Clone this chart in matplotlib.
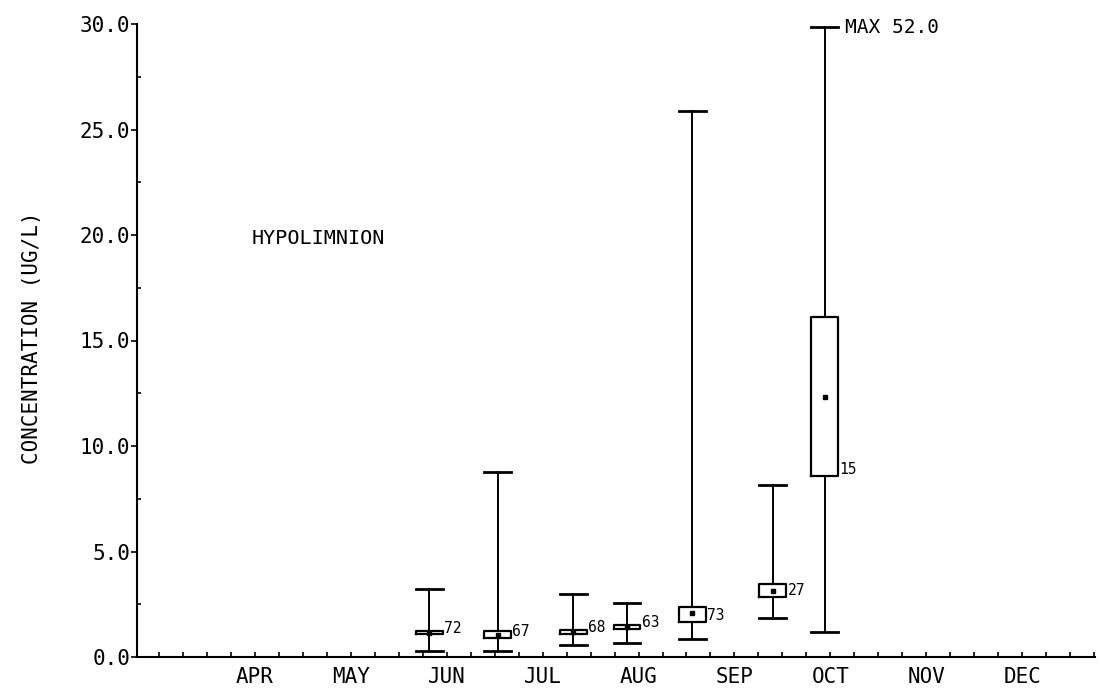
import matplotlib
matplotlib.use("Agg")
import matplotlib.pyplot as plt
from matplotlib.ticker import FixedLocator, MultipleLocator, FormatStrFormatter

# ---- data ----
months = ["APR", "MAY", "JUN", "JUL", "AUG", "SEP", "OCT", "NOV", "DEC"]
month_pos = [4, 5, 6, 7, 8, 9, 10, 11, 12]
x_pos = [5.82, 6.53, 7.32, 7.88, 8.56, 9.40, 9.94]
counts = [72, 67, 68, 63, 73, 27, 15]
mins = [0.28, 0.30, 0.57, 0.66, 0.85, 1.85, 1.18]
q1s = [1.08, 0.90, 1.09, 1.33, 1.66, 2.84, 8.60]
centers = [1.16, 1.05, 1.18, 1.42, 2.08, 3.13, 12.3]
q3s = [1.24, 1.23, 1.28, 1.52, 2.37, 3.46, 16.1]
maxs = [3.20, 8.77, 3.00, 2.55, 25.9, 8.15, 52.0]
ymax = 30.0

FONT = "DejaVu Sans Mono"
plt.rcParams["font.family"] = [FONT, "DejaVu Sans"]

fig = plt.figure(figsize=(11.04, 6.96), dpi=100)
ax = fig.add_axes([137/1104, 39/696, (1095-137)/1104, (657-24)/696])

stats = []
for q1, c, q3, lo, hi in zip(q1s, centers, q3s, mins, maxs):
    stats.append(dict(med=c, mean=c, q1=q1, q3=q3, whislo=lo,
                      whishi=min(hi, ymax * 0.995), fliers=[]))

bw = 0.28
ax.bxp(stats, positions=x_pos, widths=bw, showmeans=True, showfliers=False,
       boxprops=dict(color="black", linewidth=1.6),
       whiskerprops=dict(color="black", linewidth=1.4),
       capprops=dict(color="black", linewidth=2.0),
       capwidths=bw,
       medianprops=dict(linewidth=0),
       meanprops=dict(marker="s", markersize=3.5, markerfacecolor="black",
                      markeredgecolor="black"),
       manage_ticks=False)

for xp, q1, n in zip(x_pos, q1s, counts):
    ax.annotate(str(n), xy=(xp + bw/2, q1), xytext=(1, -1),
                textcoords="offset points", ha="left", va="bottom",
                fontsize=10.5)

for xp, hi in zip(x_pos, maxs):
    if hi > ymax:
        ax.annotate("MAX %.1f" % hi, xy=(xp + bw/2, ymax * 0.995), xytext=(5, 0),
                    textcoords="offset points", ha="left", va="center",
                    fontsize=14, annotation_clip=False)

ax.text(4.66, 19.85, "HYPOLIMNION", ha="center", va="center", fontsize=14.5)

ax.set_xlim(2.77, 12.76)
ax.set_ylim(0, ymax)

for s in ["top", "right"]:
    ax.spines[s].set_visible(False)
for s in ["left", "bottom"]:
    ax.spines[s].set_linewidth(1.5)

ax.xaxis.set_major_locator(FixedLocator(month_pos))
ax.set_xticklabels(months)
ax.xaxis.set_minor_locator(MultipleLocator(0.25))
ax.tick_params(axis="x", which="both", direction="in", length=3.5, width=1.2,
               labelsize=15, pad=7)

ax.yaxis.set_major_locator(MultipleLocator(5))
ax.yaxis.set_minor_locator(MultipleLocator(2.5))
ax.yaxis.set_major_formatter(FormatStrFormatter("%.1f"))
ax.tick_params(axis="y", which="major", direction="out", length=4, width=1.2,
               labelsize=15, pad=1)
ax.tick_params(axis="y", which="minor", direction="in", length=3, width=1.2)

ax.set_ylabel("CONCENTRATION (UG/L)", fontsize=15)
ax.yaxis.set_label_coords(-0.099, 0.505)

fig.savefig("out.png", dpi=100)
